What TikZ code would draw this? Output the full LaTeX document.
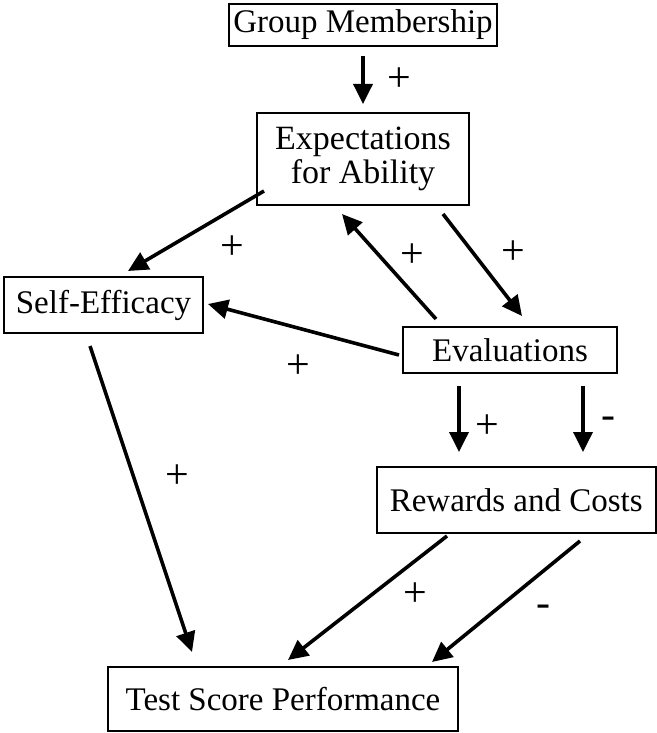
\documentclass[tikz,border=0pt]{standalone}
\usepackage{fontspec}
\setmainfont{Liberation Serif}
\usetikzlibrary{arrows.meta}

\begin{document}
\begin{tikzpicture}[x=0.5pt,y=-0.5pt,
  box/.style={draw,line width=1pt,inner sep=0pt,align=center,
    font=\fontsize{16.5}{15.5}\selectfont},
  link/.style={line width=1.8pt,-{Triangle[length=10pt,width=9.5pt]}},
  sign/.style={inner sep=0pt,font=\fontsize{21}{21}\selectfont}]
\useasboundingbox (0,0) rectangle (657,733);
% boxes
\node[box,minimum width=134pt,minimum height=21pt] (grp) at (363,25) {Group Membership};
\node[box,minimum width=106pt,minimum height=46pt,font=\fontsize{17}{15.5}\selectfont] (expect) at (363,159) {Expectations\\for Ability};
\node[box,minimum width=99.5pt,minimum height=28pt] (selfeff) at (103.5,305) {Self-Efficacy};
\node[box,minimum width=107pt,minimum height=23pt] (eval) at (510,350) {Evaluations};
\node[box,minimum width=139.25pt,minimum height=33pt] (reward) at (516.25,500) {Rewards and Costs};
\node[box,minimum width=175pt,minimum height=32pt] (test) at (283,699) {Test Score Performance};
% arrows
\draw[link] ([shift={(0,9)}]grp.south) -- ([shift={(0,-8)}]expect.north);
\draw[link] ([shift={(8,-15)}]expect.south west) -- ([shift={(24.5,-5)}]selfeff.north);
\draw[link] ([shift={(34,-7)}]eval.north west) -- ([shift={(-21,8)}]expect.south);
\draw[link] ([shift={(-27,8)}]expect.south east) -- ([shift={(12,-10)}]eval.north);
\draw[link] ([shift={(-3,5)}]eval.west) -- ([shift={(4,-1)}]selfeff.east);
\draw[link] ([shift={(-51,12)}]eval.south) -- ([shift={(-57.25,-14)}]reward.north);
\draw[link] ([shift={(73,12)}]eval.south) -- ([shift={(66.75,-14)}]reward.north);
\draw[link] ([shift={(-13.5,12)}]selfeff.south) -- ([shift={(-91,-14)}]test.north);
\draw[link] ([shift={(-69.25,2)}]reward.south) -- ([shift={(5,-6)}]test.north);
\draw[link] ([shift={(63.75,7)}]reward.south) -- ([shift={(149,-4)}]test.north);
% signs
\node[sign] (s1) at (399,80) {+};
\node[sign] (s2) at (232,248) {+};
\node[sign] (s3) at (412,256) {+};
\node[sign] (s4) at (513,253) {+};
\node[sign] (s5) at (298,367) {+};
\node[sign] (s6) at (487,427) {+};
\node[sign] (s7) at (608,423) {-};
\node[sign] (s8) at (177,477) {+};
\node[sign] (s9) at (415,595) {+};
\node[sign] (s10) at (543,611) {-};
\end{tikzpicture}
\end{document}
